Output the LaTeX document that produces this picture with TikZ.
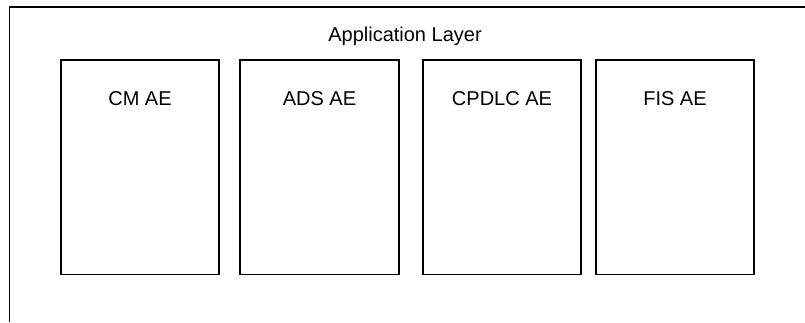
\documentclass[tikz,border=0pt]{standalone}
\usepackage{fontspec}
\setmainfont{Liberation Sans}
\usetikzlibrary{positioning}

\tikzset{every picture/.style={line width=0.75pt}}
\tikzset{
  aebox/.style={draw, line width=1pt, inner sep=0pt, minimum width=118.5pt, minimum height=160.9pt},
  aetext/.style={anchor=base, inner sep=0pt, font=\fontsize{15}{18}\selectfont}
}

\begin{document}
\begin{tikzpicture}[x=0.75pt,y=0.75pt,yscale=-1,xscale=1]
	\useasboundingbox (0,0) rectangle (805,322);

	%Shape: Layer frame
	\coordinate (framebl) at (9.5,322);
	\coordinate (frametl) at (9.5,7);
	\coordinate (frametr) at (805,7);
	\draw [line width=1pt] (framebl) -- (frametl) -- (frametr) ;

	% Text Node
	\node [aetext] (layer) at (405,41.7) {Application Layer};

	%Shape: Rectangle
	\node [aebox] (cm) at (140,167.25) {};
	%Shape: Rectangle
	\node [aebox, minimum width=119.25pt] (ads) at (319.5,167.25) {};
	%Shape: Rectangle
	\node [aebox] (cpdlc) at (502,167.25) {};
	%Shape: Rectangle
	\node [aebox] (fis) at (675,167.25) {};

	% Text Node
	\node [aetext] (cmtext) at ([yshift=34.3pt]cm.north) {CM AE};
	% Text Node
	\node [aetext] (adstext) at ([yshift=34.3pt]ads.north) {ADS AE};
	% Text Node
	\node [aetext] (cpdlctext) at ([yshift=34.3pt]cpdlc.north) {CPDLC AE};
	% Text Node
	\node [aetext] (fistext) at ([yshift=34.3pt]fis.north) {FIS AE};

\end{tikzpicture}
\end{document}
